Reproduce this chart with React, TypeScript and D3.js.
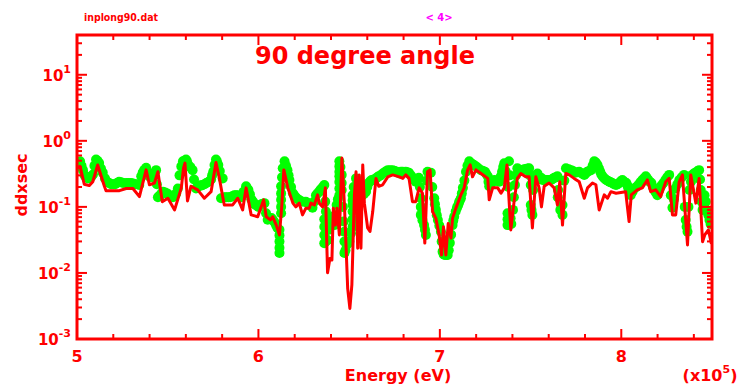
import React from "react";
import * as d3 from "d3";

// red curve (calculation)
const modelEnergy = [
  5.004, 5.017, 5.04, 5.068, 5.087, 5.114, 5.151, 5.16, 5.234, 5.271,
  5.308, 5.344, 5.381, 5.399, 5.427, 5.446, 5.47, 5.501, 5.538, 5.575,
  5.587, 5.595, 5.609, 5.628, 5.665, 5.702, 5.739, 5.766, 5.785, 5.803,
  5.812, 5.858, 5.886, 5.913, 5.932, 5.96, 5.996, 6.029, 6.043, 6.066,
  6.079, 6.098, 6.116, 6.129, 6.14, 6.162, 6.19, 6.206, 6.225, 6.243,
  6.261, 6.28, 6.289, 6.308, 6.326, 6.335, 6.354, 6.369, 6.381, 6.394,
  6.405, 6.413, 6.424, 6.433, 6.446, 6.46, 6.474, 6.492, 6.504, 6.515,
  6.529, 6.538, 6.547, 6.556, 6.565, 6.575, 6.584, 6.602, 6.615, 6.63,
  6.648, 6.663, 6.685, 6.713, 6.74, 6.777, 6.796, 6.812, 6.83, 6.849,
  6.867, 6.886, 6.904, 6.917, 6.932, 6.946, 6.96, 6.978, 6.996, 7.009,
  7.02, 7.033, 7.046, 7.061, 7.07, 7.088, 7.116, 7.134, 7.153, 7.167,
  7.18, 7.199, 7.227, 7.264, 7.272, 7.291, 7.319, 7.337, 7.355, 7.37,
  7.391, 7.409, 7.427, 7.446, 7.473, 7.492, 7.51, 7.529, 7.547, 7.56,
  7.575, 7.602, 7.63, 7.648, 7.661, 7.676, 7.694, 7.713, 7.74, 7.768,
  7.796, 7.814, 7.841, 7.86, 7.878, 7.906, 7.924, 7.943, 7.971, 8.024,
  8.043, 8.055, 8.088, 8.116, 8.144, 8.162, 8.19, 8.217, 8.245, 8.264,
  8.282, 8.3, 8.319, 8.337, 8.365, 8.383, 8.411, 8.429, 8.448, 8.46,
  8.48, 8.497,
];
const modelValue = [
  0.39, 0.41, 0.22, 0.21, 0.24, 0.43, 0.205, 0.176, 0.176, 0.19,
  0.19, 0.143, 0.363, 0.216, 0.23, 0.34, 0.12, 0.135, 0.09, 0.194,
  0.385, 0.46, 0.123, 0.205, 0.181, 0.135, 0.17, 0.47, 0.27, 0.143,
  0.107, 0.107, 0.135, 0.09, 0.194, 0.0756, 0.071, 0.128, 0.071, 0.0635,
  0.071, 0.053, 0.0376, 0.107, 0.363, 0.194, 0.114, 0.1, 0.114, 0.0756,
  0.095, 0.095, 0.114, 0.107, 0.152, 0.114, 0.1, 0.194, 0.0101, 0.0166,
  0.0157, 0.095, 0.053, 0.095, 0.0376, 0.55, 0.107, 0.0058, 0.0029, 0.0066,
  0.152, 0.34, 0.0237, 0.305, 0.0237, 0.432, 0.114, 0.048, 0.0424, 0.085,
  0.27, 0.205, 0.216, 0.285, 0.305, 0.285, 0.27, 0.305, 0.27, 0.12,
  0.12, 0.194, 0.161, 0.0283, 0.34, 0.363, 0.085, 0.067, 0.0376, 0.0187,
  0.05, 0.0187, 0.056, 0.0337, 0.067, 0.095, 0.152, 0.194, 0.363, 0.432,
  0.285, 0.363, 0.32, 0.27, 0.128, 0.194, 0.194, 0.161, 0.194, 0.432,
  0.0448, 0.12, 0.27, 0.32, 0.285, 0.285, 0.048, 0.285, 0.194, 0.1,
  0.205, 0.23, 0.194, 0.107, 0.24, 0.053, 0.32, 0.305, 0.27, 0.24,
  0.135, 0.194, 0.23, 0.216, 0.09, 0.152, 0.135, 0.17, 0.161, 0.17,
  0.06, 0.152, 0.181, 0.194, 0.256, 0.17, 0.181, 0.143, 0.24, 0.27,
  0.0756, 0.0756, 0.24, 0.305, 0.0265, 0.305, 0.114, 0.27, 0.0297, 0.0376,
  0.045, 0.0275,
];

// green points (measurement)
const dataEnergy = [
  5.006, 5.017, 5.033, 5.05, 5.072, 5.088, 5.105, 5.122, 5.142, 5.166,
  5.188, 5.21, 5.232, 5.254, 5.271, 5.298, 5.32, 5.343, 5.354, 5.37,
  5.381, 5.398, 5.418, 5.436, 5.446, 5.459, 5.474, 5.497, 5.529, 5.556,
  5.575, 5.584, 5.601, 5.613, 5.637, 5.656, 5.674, 5.692, 5.713, 5.739,
  5.751, 5.766, 5.779, 5.803, 5.794, 5.823, 5.845, 5.867, 5.886, 5.906,
  5.932, 5.945, 5.961, 5.978, 6.0, 6.017, 6.033, 6.051, 6.072, 6.088,
  6.105, 6.116, 6.116, 6.116, 6.125, 6.125, 6.125, 6.134, 6.144, 6.16,
  6.171, 6.19, 6.197, 6.216, 6.232, 6.261, 6.282, 6.298, 6.317, 6.335,
  6.348, 6.363, 6.372, 6.363, 6.363, 6.381, 6.398, 6.409, 6.418, 6.431,
  6.446, 6.446, 6.446, 6.446, 6.459, 6.459, 6.474, 6.474, 6.486, 6.501,
  6.519, 6.519, 6.519, 6.538, 6.553, 6.569, 6.593, 6.608, 6.624, 6.648,
  6.663, 6.685, 6.713, 6.74, 6.763, 6.777, 6.785, 6.812, 6.829, 6.851,
  6.867, 6.884, 6.895, 6.895, 6.913, 6.923, 6.932, 6.95, 6.969, 6.978,
  6.989, 7.006, 7.015, 7.028, 7.043, 7.055, 7.07, 7.079, 7.094, 7.105,
  7.116, 7.127, 7.144, 7.162, 7.177, 7.199, 7.227, 7.249, 7.264, 7.272,
  7.3, 7.328, 7.343, 7.355, 7.373, 7.373, 7.381, 7.39, 7.403, 7.414,
  7.427, 7.455, 7.475, 7.492, 7.501, 7.501, 7.51, 7.519, 7.538, 7.558,
  7.575, 7.593, 7.613, 7.63, 7.648, 7.652, 7.676, 7.676, 7.695, 7.724,
  7.746, 7.768, 7.796, 7.812, 7.833, 7.851, 7.869, 7.884, 7.897, 7.917,
  7.934, 7.95, 7.971, 7.989, 8.006, 8.028, 8.039, 8.052, 8.072, 8.094,
  8.116, 8.135, 8.149, 8.166, 8.182, 8.199, 8.221, 8.243, 8.264, 8.282,
  8.298, 8.32, 8.346, 8.355, 8.365, 8.376, 8.392, 8.409, 8.429, 8.438,
  8.448, 8.459, 8.475, 8.486,
];
const dataValue = [
  0.46, 0.49, 0.36, 0.28, 0.28, 0.31, 0.52, 0.46, 0.33, 0.24,
  0.22, 0.22, 0.24, 0.23, 0.23, 0.23, 0.22, 0.215, 0.29, 0.36,
  0.39, 0.29, 0.29, 0.36, 0.14, 0.15, 0.17, 0.16, 0.14, 0.19,
  0.41, 0.49, 0.52, 0.43, 0.36, 0.19, 0.21, 0.215, 0.23, 0.26,
  0.34, 0.52, 0.43, 0.27, 0.135, 0.14, 0.14, 0.15, 0.15, 0.14,
  0.205, 0.18, 0.13, 0.11, 0.1, 0.11, 0.114, 0.064, 0.068, 0.059,
  0.048, 0.045, 0.03, 0.02, 0.08, 0.128, 0.205, 0.385, 0.49, 0.36,
  0.256, 0.161, 0.15, 0.132, 0.123, 0.12, 0.111, 0.097, 0.15, 0.17,
  0.19, 0.215, 0.085, 0.0376, 0.0282, 0.0316, 0.059, 0.071, 0.053, 0.107,
  0.15, 0.239, 0.339, 0.49, 0.305, 0.18, 0.042, 0.02, 0.0265, 0.03,
  0.05, 0.107, 0.15, 0.27, 0.18, 0.147, 0.17, 0.23, 0.256, 0.27,
  0.29, 0.32, 0.36, 0.36, 0.34, 0.32, 0.34, 0.34, 0.33, 0.275,
  0.24, 0.275, 0.135, 0.0756, 0.053, 0.0376, 0.34, 0.33, 0.135, 0.09,
  0.0635, 0.042, 0.021, 0.0187, 0.0187, 0.0285, 0.053, 0.071, 0.0966, 0.115,
  0.135, 0.194, 0.34, 0.49, 0.448, 0.41, 0.36, 0.34, 0.29, 0.205,
  0.256, 0.24, 0.34, 0.459, 0.08, 0.053, 0.49, 0.067, 0.09, 0.215,
  0.385, 0.36, 0.376, 0.385, 0.215, 0.107, 0.0756, 0.256, 0.32, 0.275,
  0.256, 0.256, 0.256, 0.275, 0.29, 0.18, 0.107, 0.0756, 0.385, 0.36,
  0.33, 0.34, 0.305, 0.34, 0.36, 0.49, 0.43, 0.34, 0.29, 0.256,
  0.24, 0.23, 0.215, 0.23, 0.256, 0.23, 0.19, 0.15, 0.19, 0.215,
  0.256, 0.29, 0.256, 0.23, 0.18, 0.15, 0.21, 0.256, 0.305, 0.097,
  0.19, 0.256, 0.305, 0.0635, 0.042, 0.18, 0.305, 0.33, 0.36, 0.18,
  0.09, 0.15, 0.085, 0.0635,
];

// more green points, read between the ones above: [energy, ddxsec]
const dataPointsB: [number, number][] = [
  [5.01, 0.42], [5.025, 0.42], [5.042, 0.3], [5.061, 0.27], [5.08, 0.29],
  [5.096, 0.42], [5.113, 0.5], [5.132, 0.38], [5.154, 0.27], [5.177, 0.23],
  [5.199, 0.22], [5.221, 0.23], [5.243, 0.235], [5.284, 0.23], [5.309, 0.225],
  [5.332, 0.22], [5.362, 0.33], [5.389, 0.33], [5.408, 0.28], [5.427, 0.33],
  [5.44, 0.22], [5.452, 0.145], [5.466, 0.16], [5.486, 0.165], [5.51, 0.15],
  [5.52, 0.145], [5.54, 0.15], [5.547, 0.16], [5.565, 0.3], [5.592, 0.5],
  [5.607, 0.48], [5.625, 0.4], [5.645, 0.26], [5.665, 0.2], [5.683, 0.21],
  [5.703, 0.22], [5.726, 0.24], [5.745, 0.3], [5.758, 0.43], [5.772, 0.48],
  [5.787, 0.35], [5.812, 0.14], [5.834, 0.14], [5.856, 0.145], [5.876, 0.15],
  [5.896, 0.145], [5.918, 0.17], [5.939, 0.19], [5.953, 0.155], [5.97, 0.12],
  [5.989, 0.105], [6.008, 0.105], [6.025, 0.112], [6.042, 0.08], [6.062, 0.066],
  [6.08, 0.063], [6.097, 0.053], [6.116, 0.037], [6.116, 0.024], [6.125, 0.1],
  [6.125, 0.16], [6.13, 0.28], [6.152, 0.42], [6.166, 0.3], [6.18, 0.2],
  [6.206, 0.14], [6.224, 0.127], [6.246, 0.12], [6.271, 0.115], [6.29, 0.104],
  [6.307, 0.12], [6.326, 0.16], [6.341, 0.18], [6.356, 0.2], [6.368, 0.12],
  [6.363, 0.05], [6.363, 0.065], [6.372, 0.03], [6.39, 0.045], [6.404, 0.065],
  [6.413, 0.06], [6.424, 0.075], [6.438, 0.13], [6.446, 0.19], [6.446, 0.29],
  [6.446, 0.41], [6.452, 0.4], [6.459, 0.23], [6.465, 0.1], [6.47, 0.06],
  [6.474, 0.03], [6.48, 0.022], [6.493, 0.028], [6.51, 0.04], [6.519, 0.065],
  [6.519, 0.085], [6.519, 0.125], [6.525, 0.2], [6.545, 0.22], [6.561, 0.16],
  [6.581, 0.155], [6.6, 0.2], [6.616, 0.245], [6.636, 0.26], [6.655, 0.28],
  [6.674, 0.3], [6.699, 0.34], [6.726, 0.36], [6.752, 0.35], [6.795, 0.34],
  [6.82, 0.335], [6.84, 0.3], [6.859, 0.26], [6.876, 0.255], [6.89, 0.2],
  [6.895, 0.1], [6.904, 0.063], [6.918, 0.045], [6.928, 0.25], [6.941, 0.33],
  [6.958, 0.2], [6.973, 0.11], [6.983, 0.075], [6.997, 0.052], [7.01, 0.03],
  [7.021, 0.019], [7.036, 0.0187], [7.049, 0.022], [7.062, 0.038], [7.074, 0.062],
  [7.087, 0.085], [7.1, 0.105], [7.11, 0.125], [7.121, 0.16], [7.135, 0.25],
  [7.152, 0.42], [7.17, 0.46], [7.188, 0.43], [7.212, 0.385], [7.238, 0.35],
  [7.256, 0.315], [7.268, 0.24], [7.286, 0.23], [7.314, 0.25], [7.336, 0.29],
  [7.349, 0.4], [7.362, 0.35], [7.373, 0.065], [7.378, 0.2], [7.385, 0.3],
  [7.394, 0.055], [7.408, 0.14], [7.42, 0.3], [7.441, 0.365], [7.465, 0.37],
  [7.484, 0.38], [7.497, 0.3], [7.505, 0.09], [7.514, 0.18], [7.528, 0.3],
  [7.548, 0.265], [7.566, 0.256], [7.584, 0.256], [7.603, 0.256], [7.621, 0.265],
  [7.64, 0.28], [7.65, 0.14], [7.664, 0.09], [7.686, 0.25], [7.71, 0.37],
  [7.735, 0.345], [7.757, 0.335], [7.782, 0.32], [7.804, 0.32], [7.822, 0.35],
  [7.842, 0.42], [7.86, 0.47], [7.877, 0.38], [7.89, 0.31], [7.907, 0.27],
  [7.926, 0.248], [7.942, 0.235], [7.96, 0.22], [7.98, 0.22], [7.997, 0.245],
  [8.017, 0.24], [8.034, 0.21], [8.046, 0.17], [8.062, 0.17], [8.083, 0.2],
  [8.105, 0.235], [8.125, 0.27], [8.142, 0.27], [8.157, 0.24], [8.174, 0.2],
  [8.19, 0.165], [8.21, 0.18], [8.232, 0.23], [8.253, 0.28], [8.273, 0.15],
  [8.29, 0.13], [8.309, 0.22], [8.333, 0.28], [8.35, 0.1], [8.36, 0.05],
  [8.37, 0.1], [8.384, 0.24], [8.4, 0.32], [8.419, 0.345], [8.434, 0.26],
  [8.443, 0.12], [8.453, 0.12], [8.466, 0.12], [8.48, 0.075], [8.492, 0.055],
];

const xMajorTicks = [5, 6, 7, 8];
const xMinorTicks = d3.range(1, 18).map((i) => 5 + i * 0.2);
const yDecades = [-3, -2, -1, 0, 1];
const yMinorMult = [2, 3, 4, 5, 6, 7, 8, 9];

const RED = "#ff0000";
const GREEN = "#00ff00";
const FONT = "'DejaVu Sans', Verdana, sans-serif";

export default function App() {
  const width = 740;
  const height = 388;
  const plot = { left: 77, right: 712, top: 35, bottom: 339 };

  const x = d3.scaleLinear().domain([5, 8.5]).range([plot.left, plot.right]);
  const y = d3.scaleLog().domain([1e-3, 40]).range([plot.bottom, plot.top]);

  const model = d3.zip(modelEnergy, modelValue);
  const data = d3.zip(dataEnergy, dataValue).concat(dataPointsB);

  const line = d3
    .line<number[]>()
    .x((d) => x(d[0]))
    .y((d) => y(d[1]));

  const yMinor: number[] = [];
  yDecades.forEach((p) =>
    yMinorMult.forEach((m) => {
      const v = m * Math.pow(10, p);
      if (v <= 40) yMinor.push(v);
    })
  );

  const major = 10;
  const minor = 5;

  return (
    <svg
      width={width}
      height={height}
      style={{ position: "absolute", left: 0, top: 0, background: "#fff" }}
      fontFamily={FONT}
      fontWeight="bold"
    >
      <defs>
        <clipPath id="plotArea">
          <rect
            x={plot.left}
            y={plot.top}
            width={plot.right - plot.left}
            height={plot.bottom - plot.top}
          />
        </clipPath>
      </defs>

      <text x={84} y={21} fontSize={10} fill={RED} textLength={74} lengthAdjust="spacingAndGlyphs">
        inplong90.dat
      </text>
      <text x={439} y={21} fontSize={10} fill="#ff00ff" textAnchor="middle">
        {"< 4>"}
      </text>

      <g clipPath="url(#plotArea)">
        {data.map((d, i) => (
          <circle key={i} cx={x(d[0])} cy={y(d[1])} r={5} fill={GREEN} />
        ))}
        <path
          d={line(model) || ""}
          fill="none"
          stroke={RED}
          strokeWidth={3}
          strokeLinejoin="round"
        />
      </g>

      {/* frame */}
      <rect
        x={plot.left}
        y={plot.top}
        width={plot.right - plot.left}
        height={plot.bottom - plot.top}
        fill="none"
        stroke={RED}
        strokeWidth={3}
      />

      {/* x ticks, bottom and top, pointing inward */}
      {xMajorTicks.map((t) => (
        <g key={"xM" + t}>
          <line x1={x(t)} x2={x(t)} y1={plot.bottom} y2={plot.bottom - major} stroke={RED} strokeWidth={2} />
          <line x1={x(t)} x2={x(t)} y1={plot.top} y2={plot.top + major} stroke={RED} strokeWidth={2} />
          <text x={x(t)} y={362} fontSize={16} fill={RED} textAnchor="middle">
            {t}
          </text>
        </g>
      ))}
      {xMinorTicks
        .filter((t) => Math.abs(t - Math.round(t)) > 1e-6)
        .map((t) => (
          <g key={"xm" + t}>
            <line x1={x(t)} x2={x(t)} y1={plot.bottom} y2={plot.bottom - minor} stroke={RED} strokeWidth={2} />
            <line x1={x(t)} x2={x(t)} y1={plot.top} y2={plot.top + minor} stroke={RED} strokeWidth={2} />
          </g>
        ))}

      {/* y ticks, left and right */}
      {yDecades.map((p) => {
        const v = Math.pow(10, p);
        return (
          <g key={"yM" + p}>
            <line x1={plot.left} x2={plot.left + major} y1={y(v)} y2={y(v)} stroke={RED} strokeWidth={2} />
            <line x1={plot.right} x2={plot.right - major} y1={y(v)} y2={y(v)} stroke={RED} strokeWidth={2} />
            <text x={71} y={y(v) + 6} fontSize={15} fill={RED} textAnchor="end">
              10
              <tspan fontSize={11} dy={-8}>
                {p}
              </tspan>
            </text>
          </g>
        );
      })}
      {yMinor.map((v) => (
        <g key={"ym" + v}>
          <line x1={plot.left} x2={plot.left + minor} y1={y(v)} y2={y(v)} stroke={RED} strokeWidth={2} />
          <line x1={plot.right} x2={plot.right - minor} y1={y(v)} y2={y(v)} stroke={RED} strokeWidth={2} />
        </g>
      ))}

      <text x={365} y={64} fontSize={24} fill={RED} textAnchor="middle">
        90 degree angle
      </text>

      <text x={398} y={381} fontSize={16} fill={RED} textAnchor="middle">
        Energy (eV)
      </text>
      <text x={710} y={381} fontSize={16} fill={RED} textAnchor="middle">
        (x10
        <tspan fontSize={11} dy={-8}>
          5
        </tspan>
        <tspan dy={8}>)</tspan>
      </text>

      <text
        transform="translate(27,185) rotate(-90)"
        fontSize={16}
        fill={RED}
        textAnchor="middle"
      >
        ddxsec
      </text>
    </svg>
  );
}
